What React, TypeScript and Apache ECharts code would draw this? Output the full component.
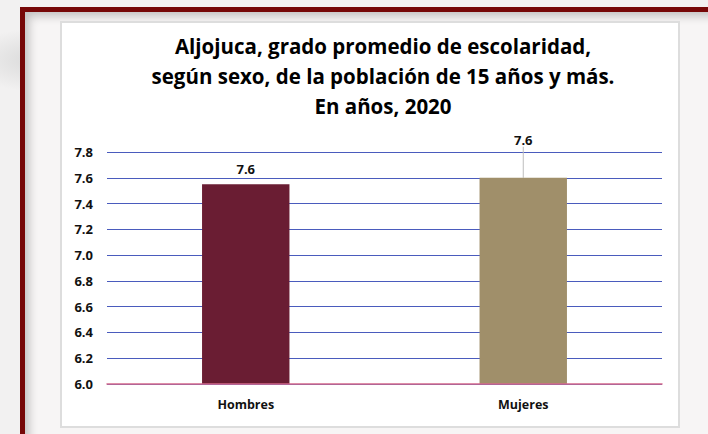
import React, { useEffect, useRef } from "react";
import * as echarts from "echarts";

const categories = ["Hombres", "Mujeres"];
const values = [7.55, 7.6];
const barColors = ["#6a1d33", "#a08f6a"];
const yMin = 6.0;
const yMax = 7.8;
const yStep = 0.2;
const titleText =
  "Aljojuca, grado promedio de escolaridad,\nsegún sexo, de la población de 15 años y más.\nEn años, 2020";

const fmt1 = (v: number) => (Math.round(v * 10 + 1e-6) / 10).toFixed(1);

export default function App() {
  const ref = useRef<HTMLDivElement>(null);

  useEffect(() => {
    if (!ref.current) return;
    const chart = echarts.init(ref.current, null, { renderer: "svg" });
    chart.setOption({
      animation: false,
      backgroundColor: "transparent",
      title: {
        text: titleText,
        left: 383,
        top: 31,
        padding: 0,
        textAlign: "center",
        textStyle: {
          fontFamily: "Open Sans",
          fontWeight: "bold",
          fontSize: 20.5,
          lineHeight: 30,
          color: "#000",
        },
      },
      grid: { left: 107, right: 46, top: 152, bottom: 50 },
      xAxis: {
        type: "category",
        data: categories,
        axisLine: { show: true, lineStyle: { color: "#d5698a", width: 1.5 } },
        axisTick: { show: false },
        axisLabel: {
          margin: 14,
          fontFamily: "Open Sans",
          fontWeight: "bold",
          fontSize: 12.5,
          color: "#111",
        },
        z: 5,
      },
      yAxis: {
        type: "value",
        min: yMin,
        max: yMax,
        interval: yStep,
        axisLine: { show: false },
        axisTick: { show: false },
        splitLine: { lineStyle: { color: "#4a5bbd", width: 1.2 } },
        axisLabel: {
          margin: 14,
          fontFamily: "Open Sans",
          fontWeight: "bold",
          fontSize: 13,
          color: "#111",
          formatter: (v: number) => fmt1(v),
        },
      },
      series: [
        {
          type: "bar",
          barWidth: "31.5%",
          data: values.map((v, i) => ({
            value: v,
            itemStyle: { color: barColors[i] },
            labelLine: { show: i === 1 },
          })),
          label: {
            show: true,
            position: "top",
            distance: 9,
            fontFamily: "Open Sans",
            fontWeight: "bold",
            fontSize: 13,
            color: "#111",
            formatter: (p: any) => fmt1(Number(p.value)),
          },
          labelLayout: (p: any) => (p.dataIndex === 1 ? { dy: -22 } : {}),
          labelLine: {
            show: true,
            lineStyle: { color: "#bdbdbd", width: 1 },
          },
        },
      ],
    });
    return () => chart.dispose();
  }, []);

  return (
    <div
      style={{
        position: "fixed",
        left: 0,
        top: 0,
        width: 708,
        height: 434,
        overflow: "hidden",
        background:
          "radial-gradient(ellipse 90px 40px at 40px 60px, #d8d8d8, rgba(0,0,0,0) 80%), linear-gradient(#f2f1f1, #f2f1f1)",
      }}
    >
      <div
        style={{
          position: "absolute",
          left: 20,
          top: 7,
          width: 720,
          height: 450,
          borderLeft: "5px solid #760707",
          borderTop: "5px solid #760707",
          background: "#f7f5f5",
          boxShadow: "inset 10px 10px 10px -6px rgba(0,0,0,0.22)",
        }}
      />
      <div
        style={{
          position: "absolute",
          left: 60,
          top: 21,
          width: 620,
          height: 407,
          background: "#ffffff",
          border: "2px solid #dddddd",
          boxSizing: "border-box",
        }}
      />
      <div
        ref={ref}
        style={{ position: "absolute", left: 0, top: 0, width: 708, height: 434 }}
      />
    </div>
  );
}
